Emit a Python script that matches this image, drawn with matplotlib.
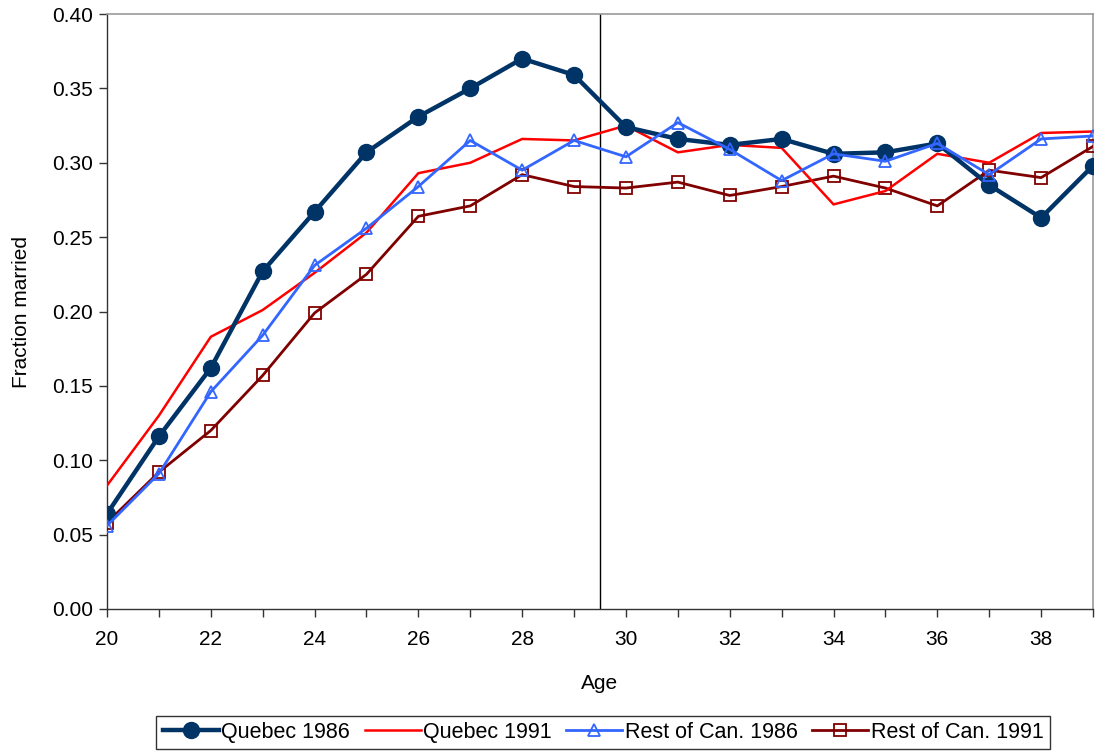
import matplotlib
matplotlib.use("Agg")
import matplotlib.pyplot as plt
from matplotlib.ticker import MultipleLocator, FormatStrFormatter

plt.rcParams['font.family'] = ['Liberation Sans', 'DejaVu Sans']

ages = list(range(20, 40))
quebec_1986 = [0.064, 0.116, 0.162, 0.227, 0.267, 0.307, 0.331, 0.350, 0.370, 0.359,
               0.324, 0.316, 0.312, 0.316, 0.306, 0.307, 0.313, 0.285, 0.263, 0.298]
quebec_1991 = [0.083, 0.130, 0.183, 0.201, 0.226, 0.253, 0.293, 0.300, 0.316, 0.315,
               0.325, 0.307, 0.312, 0.310, 0.272, 0.281, 0.306, 0.300, 0.320, 0.321]
rest_1986 = [0.056, 0.091, 0.146, 0.184, 0.231, 0.256, 0.284, 0.315, 0.295, 0.315,
             0.304, 0.327, 0.309, 0.288, 0.306, 0.301, 0.313, 0.292, 0.316, 0.318]
rest_1991 = [0.058, 0.092, 0.120, 0.157, 0.199, 0.225, 0.264, 0.271, 0.292, 0.284,
             0.283, 0.287, 0.278, 0.284, 0.291, 0.283, 0.271, 0.295, 0.290, 0.311]
divider_age = 29.5

fig = plt.figure(figsize=(10.95, 7.52), dpi=100)
ax = fig.add_axes([107/1095, 1-609/752, (1093-107)/1095, (609-14)/752])

ax.plot(ages, quebec_1986, color='#003366', lw=3.2, marker='o', ms=11.5,
        label='Quebec 1986', zorder=5)
ax.plot(ages, quebec_1991, color='#FF0000', lw=1.8, label='Quebec 1991', zorder=4)
ax.plot(ages, rest_1986, color='#3366FF', lw=2.0, marker='^', ms=9,
        mfc='none', mec='#3366FF', mew=1.3, label='Rest of Can. 1986', zorder=6)
ax.plot(ages, rest_1991, color='#800000', lw=2.0, marker='s', ms=8.5,
        mfc='none', mec='#800000', mew=1.3, label='Rest of Can. 1991', zorder=3)
ax.axvline(divider_age, color='black', lw=1.0, zorder=2)

ax.set_xlim(20, 39)
ax.set_ylim(0, 0.40)
ax.xaxis.set_major_locator(MultipleLocator(2))
ax.xaxis.set_minor_locator(MultipleLocator(1))
ax.yaxis.set_major_locator(MultipleLocator(0.05))
ax.yaxis.set_major_formatter(FormatStrFormatter('%.2f'))
ax.tick_params(axis='both', which='both', direction='out', labelsize=15, color='#333333')
ax.tick_params(axis='both', which='major', length=6, width=1)
ax.tick_params(axis='x', which='minor', length=6, width=1)
ax.tick_params(axis='x', pad=9)
ax.tick_params(axis='y', pad=4)

for s in ['top', 'right']:
    ax.spines[s].set_color('#999999')
    ax.spines[s].set_linewidth(1.2)
for s in ['left', 'bottom']:
    ax.spines[s].set_color('#333333')
    ax.spines[s].set_linewidth(1.0)

ax.set_xlabel('Age', fontsize=15, labelpad=18)
ax.set_ylabel('Fraction married', fontsize=15, labelpad=15)

leg = fig.legend(loc='center', bbox_to_anchor=(603/1095, 1-732.5/752), ncol=4,
                 prop={'family': ['Liberation Sans'], 'size': 15.5},
                 frameon=True, fancybox=False, edgecolor='black',
                 handlelength=2.6, handletextpad=0.1, columnspacing=0.7,
                 borderpad=0.3, borderaxespad=0)
leg.get_frame().set_linewidth(1.0)

fig.savefig('out.png', dpi=100)
